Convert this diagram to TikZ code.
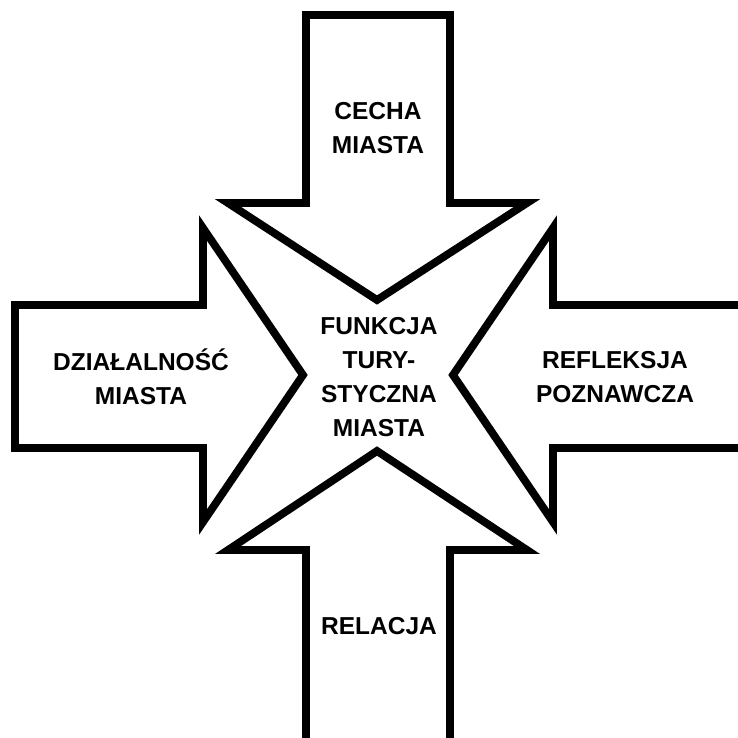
\documentclass[tikz,border=0pt]{standalone}
\usepackage{fontspec}
\setsansfont{Liberation Sans}
\usetikzlibrary{positioning}
\tikzset{
  bigarrow/.style={
    draw,
    line width=7.8pt,
    fill=white,
    miter limit=20
  },
  label/.style={
    align=center,
    inner sep=0pt,
    font=\sffamily\bfseries\fontsize{24.5}{34}\selectfont
  }
}
\begin{document}
\begin{tikzpicture}[x=1pt, y=-1pt]
  \useasboundingbox (0,0) rectangle (738,737);

  % arrow from the top
  \draw[bigarrow] (306,15) -- (450,15) -- (450,203) -- (527,203)
    -- (377,300) -- (228,203) -- (306,203) -- cycle;
  % arrow from the left
  \draw[bigarrow] (15,305) -- (203,305) -- (203,228) -- (303,375)
    -- (203,522) -- (203,448) -- (15,448) -- cycle;
  % arrow from the right
  \draw[bigarrow] (742,305) -- (553,305) -- (553,228) -- (453,375)
    -- (553,522) -- (553,448) -- (742,448) -- cycle;
  % arrow from the bottom
  \draw[bigarrow] (306,742) -- (306,550) -- (228,550) -- (377,451)
    -- (527,550) -- (450,550) -- (450,742) -- cycle;

  \node[label] (cecha) at (378,128) {CECHA\\MIASTA};
  \node[label] (dzialalnosc) at (141,377) {DZIAŁALNOŚĆ\\MIASTA};
  \node[label] (refleksja) at (615,377) {REFLEKSJA\\POZNAWCZA};
  \node[label] (relacja) at (379,626) {RELACJA};
  \node[label] (funkcja) at (379,377) {FUNKCJA\\TURY-\\STYCZNA\\MIASTA};
\end{tikzpicture}
\end{document}
